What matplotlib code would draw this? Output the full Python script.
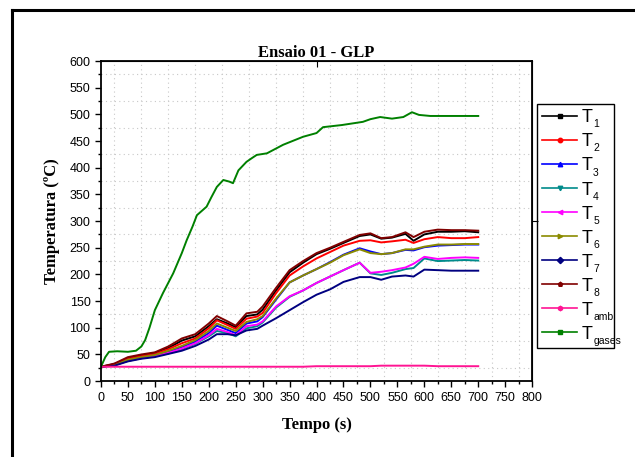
import numpy as np
import matplotlib.pyplot as plt
from matplotlib.lines import Line2D
from matplotlib.patches import Rectangle
from matplotlib.ticker import MultipleLocator

# time grid (s) for the wall thermocouples
t = [0, 25, 50, 75, 100, 125, 150, 175, 200, 215, 235, 250, 270, 290, 300, 325,
     350, 375, 400, 425, 450, 480, 500, 520, 540, 565, 580, 600, 625, 650, 675, 700]

T1 = [27, 32, 43, 48, 53, 62, 76, 84, 103, 116, 108, 101, 122, 125, 134, 170,
      204, 222, 238, 248, 259, 272, 275, 267, 269, 276, 263, 275, 280, 280, 281, 279]
T2 = [27, 31, 42, 47, 51, 60, 71, 80, 99, 114, 105, 98, 117, 121, 128, 165,
      198, 215, 230, 242, 254, 263, 264, 260, 262, 265, 259, 266, 270, 268, 268, 270]
T3 = [27, 30, 39, 44, 48, 55, 64, 74, 90, 104, 96, 90, 108, 112, 120, 153,
      185, 198, 210, 223, 237, 249, 243, 238, 240, 246, 245, 251, 254, 255, 256, 256]
T4 = [27, 30, 38, 43, 47, 52, 60, 70, 84, 94, 90, 84, 99, 103, 110, 138,
      158, 170, 184, 196, 208, 222, 202, 199, 203, 210, 212, 230, 225, 226, 227, 226]
T5 = [27, 30, 38, 43, 47, 53, 61, 71, 86, 98, 92, 86, 103, 106, 112, 140,
      159, 170, 184, 196, 208, 222, 203, 205, 208, 213, 220, 233, 229, 231, 232, 231]
T6 = [27, 30, 40, 45, 49, 57, 66, 77, 94, 108, 100, 94, 111, 116, 122, 155,
      185, 198, 210, 222, 236, 247, 240, 238, 240, 247, 247, 252, 256, 256, 257, 257]
T7 = [27, 29, 37, 42, 45, 51, 57, 66, 78, 88, 88, 86, 95, 98, 104, 118,
      133, 148, 162, 172, 186, 195, 195, 190, 196, 198, 196, 209, 208, 207, 207, 207]
T8 = [27, 33, 45, 50, 54, 65, 80, 88, 108, 122, 112, 104, 127, 130, 140, 175,
      208, 225, 240, 250, 261, 274, 277, 268, 270, 279, 270, 280, 284, 283, 283, 282]
Tamb = [27, 27, 27, 27, 27, 27, 27, 27, 27, 27, 27, 27, 27, 27, 27, 27,
        27, 27, 28, 28, 28, 28, 28, 29, 29, 29, 29, 29, 28, 28, 28, 28]

# flue gas temperature has its own time points
t_gas = [0, 8, 15, 30, 50, 65, 75, 82, 90, 100, 115, 134, 150, 159, 170, 178, 196,
         205, 215, 227, 238, 245, 255, 270, 280, 289, 308, 338, 375, 400, 412, 447,
         486, 500, 518, 540, 561, 577, 590, 611, 650, 700]
T_gases = [27, 45, 55, 56, 55, 57, 65, 77, 100, 133, 165, 202, 240, 264, 290, 311, 327,
           345, 364, 377, 374, 371, 395, 411, 418, 424, 427, 443, 458, 465, 476, 480,
           486, 491, 495, 492, 495, 504, 499, 497, 497, 497]

subs = ['1', '2', '3', '4', '5', '6', '7', '8', 'amb', 'gases']
colors = ['#000000', '#ff0000', '#0000ff', '#008b8b', '#ff00ff',
          '#8b8b00', '#000080', '#800000', '#ff1493', '#008000']
markers = ['s', 'o', '^', 'v', '<', '>', 'D', 'p', 'h', 's']
xs = [t] * 9 + [t_gas]
ys = [T1, T2, T3, T4, T5, T6, T7, T8, Tamb, T_gases]

W, H = 635, 457
fig = plt.figure(figsize=(6.35, 4.57), dpi=100)
ax = fig.add_axes([0.159, 0.166, 0.679, 0.7005])

handles = []
for x, y, col, mk in zip(xs, ys, colors, markers):
    ax.plot(x, y, color=col, lw=1.4)
    handles.append(Line2D([], [], color=col, lw=1.2, marker=mk, markersize=3.2,
                          markerfacecolor=col, markeredgecolor=col))

ax.set_xlim(0, 800)
ax.set_ylim(0, 600)
ax.xaxis.set_major_locator(MultipleLocator(50))
ax.xaxis.set_minor_locator(MultipleLocator(25))
ax.yaxis.set_major_locator(MultipleLocator(50))
ax.yaxis.set_minor_locator(MultipleLocator(25))
ax.tick_params(which='major', direction='out', length=4, width=1, labelsize=9)
ax.tick_params(which='minor', direction='out', length=2.5, width=1)
for lbl in ax.get_xticklabels() + ax.get_yticklabels():
    lbl.set_fontfamily('Liberation Sans')

# dotted grid between the major ticks
for v in np.arange(25, 800, 50):
    ax.axvline(v, color='#c8c8c8', ls=(0, (1, 3)), lw=0.8, zorder=0)
for v in np.arange(25, 600, 50):
    ax.axhline(v, color='#c8c8c8', ls=(0, (1, 3)), lw=0.8, zorder=0)

for s in ax.spines.values():
    s.set_linewidth(1.3)

# single ticks on top/right axes
top = ax.secondary_xaxis('top')
top.set_xticks([400])
top.set_xticklabels([])
top.tick_params(direction='in', length=4)
right = ax.secondary_yaxis('right')
right.set_yticks([300])
right.set_yticklabels([])
right.tick_params(direction='out', length=4)

ax.set_xlabel('Tempo (s)', fontfamily='Liberation Serif', fontweight='bold',
              fontsize=12, labelpad=10)
ax.set_ylabel('Temperatura (ºC)', fontfamily='Liberation Serif', fontweight='bold',
              fontsize=12, labelpad=7)
ax.set_title('Ensaio 01 - GLP', fontfamily='Liberation Serif', fontweight='bold',
             fontsize=12, pad=2)

# legend without its own frame; box drawn separately, subscripts added after layout
leg = fig.legend(handles, ['T'] * 10, loc='upper left',
                 bbox_to_anchor=(537 / W, 1 - 104 / H), numpoints=1,
                 handlelength=1.9, handletextpad=0.28, labelspacing=0.39,
                 frameon=False, borderpad=0.3, borderaxespad=0,
                 prop={'family': 'Liberation Sans', 'size': 13})
fig.add_artist(Rectangle((537 / W, 1 - 348 / H), 77 / W, 244 / H, fill=False,
                         edgecolor='black', lw=1.0, transform=fig.transFigure))

fig.canvas.draw()
inv = fig.transFigure.inverted()
for txt, sub in zip(leg.get_texts(), subs):
    bb = txt.get_window_extent()
    px, py = inv.transform((bb.x1 + 0.5, bb.y0 - 1))
    fig.text(px, py, sub, fontsize=7.5, family='Liberation Sans',
             va='baseline', ha='left', zorder=10)

# outer frame (only left and top edges visible)
fig.add_artist(Line2D([12 / W, 12 / W], [0, 1 - 10 / H], color='black', lw=2.2,
                      transform=fig.transFigure))
fig.add_artist(Line2D([12 / W, 1], [1 - 10 / H, 1 - 10 / H], color='black', lw=2.2,
                      transform=fig.transFigure))

fig.savefig('out.png', dpi=100)
